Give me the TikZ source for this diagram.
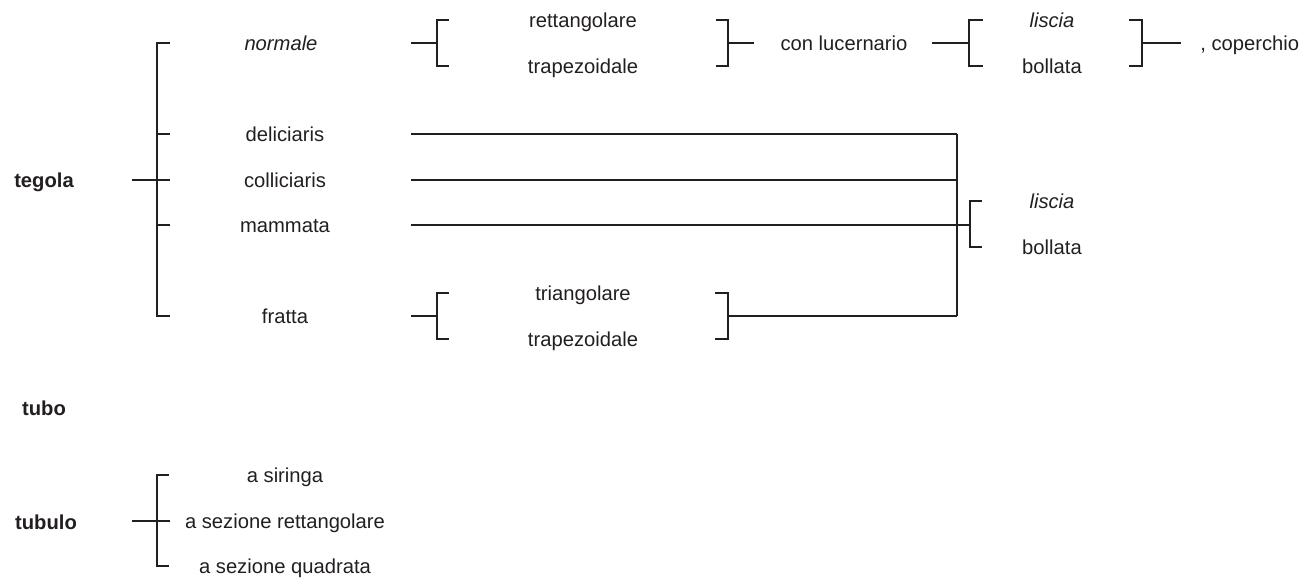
\documentclass[tikz,border=0pt]{standalone}
\usepackage{fontspec}
\setmainfont{Liberation Sans}
\begin{document}
\begin{tikzpicture}[x=0.5pt,y=-0.5pt,
  lbl/.style={inner sep=0pt,text height=0.72em,text depth=0pt,font=\fontsize{10.1}{12}\selectfont,text=ink},
  hd/.style={lbl,font=\fontsize{10.1}{12}\selectfont\bfseries},
  it/.style={lbl,font=\fontsize{10.1}{12}\selectfont\itshape},
  ln/.style={draw=ink,line width=1pt,line cap=butt,line join=miter}]
\definecolor{ink}{HTML}{231F20}
\useasboundingbox[fill=white] (0,0) rectangle (1312,580);

% ---------- labels ----------
\node[hd] (tegola) at (44,180) {tegola};
\node[it] (normale) at (281,43) {normale};
\node[lbl] (delic) at (285,134) {deliciaris};
\node[lbl] (collic) at (285,180) {colliciaris};
\node[lbl] (mamm) at (285,225) {mammata};
\node[lbl] (fratta) at (285,316) {fratta};

\node[lbl] (rett) at (583,20) {rettangolare};
\node[lbl] (trap) at (583,66) {trapezoidale};
\node[lbl] (conluc) at (844,43) {con lucernario};
\node[it] (liscia) at (1052,20) {liscia};
\node[lbl] (bollata) at (1052,66) {bollata};
\node[lbl,anchor=west] (coperchio) at (1200,43) {, coperchio};

\node[it] (lisciaB) at (1052,201) {liscia};
\node[lbl] (bollataB) at (1052,247) {bollata};

\node[lbl] (triang) at (583,293) {triangolare};
\node[lbl] (trapB) at (583,339) {trapezoidale};

\node[hd] (tubo) at (44,408) {tubo};
\node[hd] (tubulo) at (46,522) {tubulo};
\node[lbl] (siringa) at (285,475) {a siringa};
\node[lbl] (sezrett) at (285,521) {a sezione rettangolare};
\node[lbl] (sezquad) at (285,566) {a sezione quadrata};

% ---------- coordinates ----------
% main bracket (tegola)
\coordinate (mA) at (132,180);
\coordinate (mT) at (157,43);
\coordinate (mB) at (157,316);
% normale bracket
\coordinate (nA) at (411,43);
\coordinate (nT) at (437,20);
\coordinate (nB) at (437,66);
\coordinate (nRT) at (728,20);
\coordinate (nRB) at (728,66);
\coordinate (nOut) at (754,43);
% con lucernario bracket
\coordinate (cA) at (932,43);
\coordinate (cT) at (969,20);
\coordinate (cB) at (969,66);
\coordinate (cRT) at (1142,20);
\coordinate (cRB) at (1142,66);
\coordinate (cOut) at (1181,43);
% collector
\coordinate (vT) at (957,134);
\coordinate (vB) at (957,316);
\coordinate (lT) at (970,201);
\coordinate (lB) at (970,247);
% fratta bracket
\coordinate (fA) at (411,316);
\coordinate (fT) at (437,293);
\coordinate (fB) at (437,339);
\coordinate (fRT) at (728,293);
\coordinate (fRB) at (728,339);
% tubulo bracket
\coordinate (tA) at (132,521);
\coordinate (tT) at (157,475);
\coordinate (tB) at (157,566);

% ---------- connectors ----------
% tegola
\draw[ln] ([xshift=6.5]mT) -- (mT) -- (mB) -- ([xshift=6.5]mB);
\draw[ln] (mA) -- ++(38,0);
\draw[ln] (mT |- delic) -- ++(13,0);
\draw[ln] (mT |- mamm) -- ++(13,0);

% normale
\draw[ln] (nA) -- (nA -| nT);
\draw[ln] ([xshift=6]nT) -- (nT) -- (nB) -- ([xshift=6]nB);
\draw[ln] ([xshift=-6]nRT) -- (nRT) -- (nRB) -- ([xshift=-6]nRB);
\draw[ln] (nRT |- nOut) -- (nOut);

% con lucernario
\draw[ln] (cA) -- (cA -| cT);
\draw[ln] ([xshift=7]cT) -- (cT) -- (cB) -- ([xshift=7]cB);
\draw[ln] ([xshift=-6.5]cRT) -- (cRT) -- (cRB) -- ([xshift=-6.5]cRB);
\draw[ln] (cRT |- cOut) -- (cOut);

% long lines to collector
\draw[ln] (nA |- delic) -- (vT);
\draw[ln] (nA |- collic) -- (vT |- collic);
\draw[ln] (nA |- mamm) -- (lT |- mamm);
\draw[ln] (vT) -- (vB);
\draw[ln] ([xshift=6]lT) -- (lT) -- (lB) -- ([xshift=6]lB);

% fratta
\draw[ln] (fA) -- (fA -| fT);
\draw[ln] ([xshift=6]fT) -- (fT) -- (fB) -- ([xshift=6]fB);
\draw[ln] ([xshift=-6.5]fRT) -- (fRT) -- (fRB) -- ([xshift=-6.5]fRB);
\draw[ln] (fRT |- fA) -- (vB);

% tubulo
\draw[ln] ([xshift=6]tT) -- (tT) -- (tB) -- ([xshift=6]tB);
\draw[ln] (tA) -- ++(38,0);
\end{tikzpicture}
\end{document}
